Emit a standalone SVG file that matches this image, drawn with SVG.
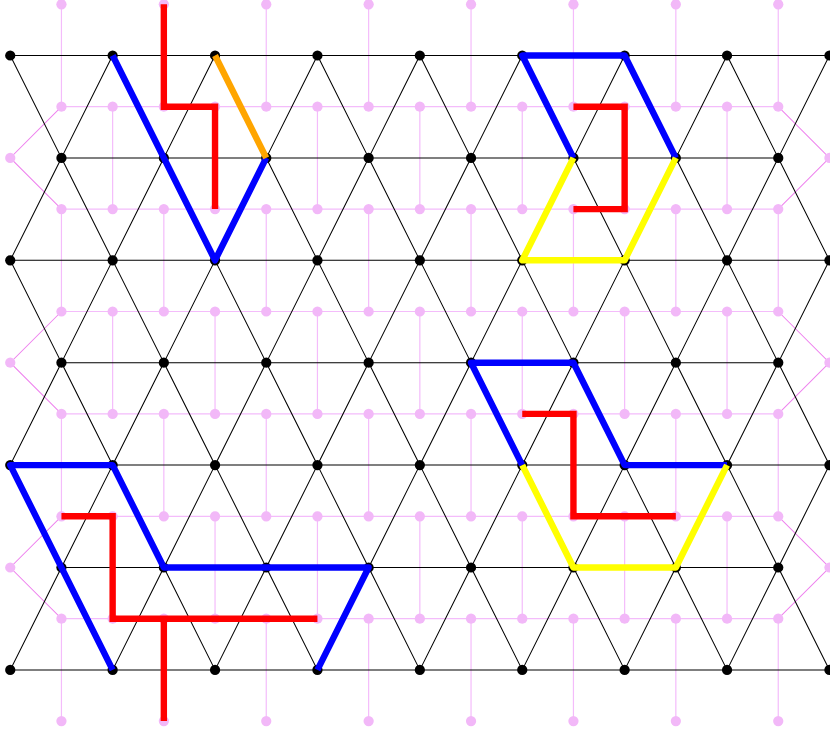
<svg xmlns="http://www.w3.org/2000/svg" width="830" height="733" viewBox="0 0 830 733">
<style>
.edge{fill:none;stroke:#000;stroke-width:1.02}
.pedge{fill:none;stroke:#f4bcfb;stroke-width:1.2}
.pside{fill:none;stroke:#ee82ee;stroke-width:1.02}
.b{fill:#000}
.p{fill:#f2b8f8}
.t{fill:none;stroke-width:6.4;stroke-linejoin:miter;stroke-linecap:butt}
.blue{stroke:#00f;stroke-linejoin:round}
.red{stroke:#f00}
.yellow{stroke:#ff0;stroke-linejoin:round}
.orange{stroke:#ffa500}
</style>
<rect width="830" height="733" fill="#fff"/>
<g id="connectors">
<g id="dual-edges">
<path class="pedge" d="M61.44 106.7H778.24M61.44 209.1H778.24M61.44 311.5H778.24M61.44 413.9H778.24M61.44 516.3H778.24M61.44 618.7H778.24"/>
<path class="pedge" d="M61.44 4.3V106.7M61.44 209.1V311.5M61.44 413.9V516.3M61.44 618.7V721.1M163.84 4.3V106.7M163.84 209.1V311.5M163.84 413.9V516.3M163.84 618.7V721.1M266.24 4.3V106.7M266.24 209.1V311.5M266.24 413.9V516.3M266.24 618.7V721.1M368.64 4.3V106.7M368.64 209.1V311.5M368.64 413.9V516.3M368.64 618.7V721.1M471.04 4.3V106.7M471.04 209.1V311.5M471.04 413.9V516.3M471.04 618.7V721.1M573.44 4.3V106.7M573.44 209.1V311.5M573.44 413.9V516.3M573.44 618.7V721.1M675.84 4.3V106.7M675.84 209.1V311.5M675.84 413.9V516.3M675.84 618.7V721.1M778.24 4.3V106.7M778.24 209.1V311.5M778.24 413.9V516.3M778.24 618.7V721.1"/>
<path class="pedge" d="M112.64 106.7V209.1M112.64 311.5V413.9M112.64 516.3V618.7M215.04 106.7V209.1M215.04 311.5V413.9M215.04 516.3V618.7M317.44 106.7V209.1M317.44 311.5V413.9M317.44 516.3V618.7M419.84 106.7V209.1M419.84 311.5V413.9M419.84 516.3V618.7M522.24 106.7V209.1M522.24 311.5V413.9M522.24 516.3V618.7M624.64 106.7V209.1M624.64 311.5V413.9M624.64 516.3V618.7M727.04 106.7V209.1M727.04 311.5V413.9M727.04 516.3V618.7"/>
<path class="pside" d="M61.44 106.7L10.24 157.9L61.44 209.1M61.44 311.5L10.24 362.7L61.44 413.9M61.44 516.3L10.24 567.5L61.44 618.7M778.24 106.7L829.44 157.9L778.24 209.1M778.24 311.5L829.44 362.7L778.24 413.9M778.24 516.3L829.44 567.5L778.24 618.7"/>
</g>
<g id="lattice-edges">
<path class="edge" d="M10.24 55.5H829.44M61.44 157.9H778.24M10.24 260.3H829.44M61.44 362.7H778.24M10.24 465.1H829.44M61.44 567.5H778.24M10.24 669.9H829.44"/>
<path class="edge" d="M10.24 55.5L61.44 157.9L112.64 55.5L163.84 157.9L215.04 55.5L266.24 157.9L317.44 55.5L368.64 157.9L419.84 55.5L471.04 157.9L522.24 55.5L573.44 157.9L624.64 55.5L675.84 157.9L727.04 55.5L778.24 157.9L829.44 55.5"/>
<path class="edge" d="M10.24 260.3L61.44 157.9L112.64 260.3L163.84 157.9L215.04 260.3L266.24 157.9L317.44 260.3L368.64 157.9L419.84 260.3L471.04 157.9L522.24 260.3L573.44 157.9L624.64 260.3L675.84 157.9L727.04 260.3L778.24 157.9L829.44 260.3"/>
<path class="edge" d="M10.24 260.3L61.44 362.7L112.64 260.3L163.84 362.7L215.04 260.3L266.24 362.7L317.44 260.3L368.64 362.7L419.84 260.3L471.04 362.7L522.24 260.3L573.44 362.7L624.64 260.3L675.84 362.7L727.04 260.3L778.24 362.7L829.44 260.3"/>
<path class="edge" d="M10.24 465.1L61.44 362.7L112.64 465.1L163.84 362.7L215.04 465.1L266.24 362.7L317.44 465.1L368.64 362.7L419.84 465.1L471.04 362.7L522.24 465.1L573.44 362.7L624.64 465.1L675.84 362.7L727.04 465.1L778.24 362.7L829.44 465.1"/>
<path class="edge" d="M10.24 465.1L61.44 567.5L112.64 465.1L163.84 567.5L215.04 465.1L266.24 567.5L317.44 465.1L368.64 567.5L419.84 465.1L471.04 567.5L522.24 465.1L573.44 567.5L624.64 465.1L675.84 567.5L727.04 465.1L778.24 567.5L829.44 465.1"/>
<path class="edge" d="M10.24 669.9L61.44 567.5L112.64 669.9L163.84 567.5L215.04 669.9L266.24 567.5L317.44 669.9L368.64 567.5L419.84 669.9L471.04 567.5L522.24 669.9L573.44 567.5L624.64 669.9L675.84 567.5L727.04 669.9L778.24 567.5L829.44 669.9"/>
</g>
</g>
<g id="dual-nodes">
<g id="p-s1"><circle class="p" cx="10.24" cy="157.9" r="5.12"/></g><g id="p-s2"><circle class="p" cx="10.24" cy="362.7" r="5.12"/></g><g id="p-s3"><circle class="p" cx="10.24" cy="567.5" r="5.12"/></g><g id="p-s4"><circle class="p" cx="829.44" cy="157.9" r="5.12"/></g><g id="p-s5"><circle class="p" cx="829.44" cy="362.7" r="5.12"/></g><g id="p-s6"><circle class="p" cx="829.44" cy="567.5" r="5.12"/></g>
<g id="p-0-1"><circle class="p" cx="61.44" cy="4.3" r="5.12"/></g><g id="p-0-2"><circle class="p" cx="163.84" cy="4.3" r="5.12"/></g><g id="p-0-3"><circle class="p" cx="266.24" cy="4.3" r="5.12"/></g><g id="p-0-4"><circle class="p" cx="368.64" cy="4.3" r="5.12"/></g><g id="p-0-5"><circle class="p" cx="471.04" cy="4.3" r="5.12"/></g><g id="p-0-6"><circle class="p" cx="573.44" cy="4.3" r="5.12"/></g><g id="p-0-7"><circle class="p" cx="675.84" cy="4.3" r="5.12"/></g><g id="p-0-8"><circle class="p" cx="778.24" cy="4.3" r="5.12"/></g>
<g id="p-7-1"><circle class="p" cx="61.44" cy="721.1" r="5.12"/></g><g id="p-7-2"><circle class="p" cx="163.84" cy="721.1" r="5.12"/></g><g id="p-7-3"><circle class="p" cx="266.24" cy="721.1" r="5.12"/></g><g id="p-7-4"><circle class="p" cx="368.64" cy="721.1" r="5.12"/></g><g id="p-7-5"><circle class="p" cx="471.04" cy="721.1" r="5.12"/></g><g id="p-7-6"><circle class="p" cx="573.44" cy="721.1" r="5.12"/></g><g id="p-7-7"><circle class="p" cx="675.84" cy="721.1" r="5.12"/></g><g id="p-7-8"><circle class="p" cx="778.24" cy="721.1" r="5.12"/></g>
<g id="p-1-1"><circle class="p" cx="61.44" cy="106.7" r="5.12"/></g><g id="p-1-2"><circle class="p" cx="112.64" cy="106.7" r="5.12"/></g><g id="p-1-3"><circle class="p" cx="163.84" cy="106.7" r="5.12"/></g><g id="p-1-4"><circle class="p" cx="215.04" cy="106.7" r="5.12"/></g><g id="p-1-5"><circle class="p" cx="266.24" cy="106.7" r="5.12"/></g><g id="p-1-6"><circle class="p" cx="317.44" cy="106.7" r="5.12"/></g><g id="p-1-7"><circle class="p" cx="368.64" cy="106.7" r="5.12"/></g><g id="p-1-8"><circle class="p" cx="419.84" cy="106.7" r="5.12"/></g><g id="p-1-9"><circle class="p" cx="471.04" cy="106.7" r="5.12"/></g><g id="p-1-10"><circle class="p" cx="522.24" cy="106.7" r="5.12"/></g><g id="p-1-11"><circle class="p" cx="573.44" cy="106.7" r="5.12"/></g><g id="p-1-12"><circle class="p" cx="624.64" cy="106.7" r="5.12"/></g><g id="p-1-13"><circle class="p" cx="675.84" cy="106.7" r="5.12"/></g><g id="p-1-14"><circle class="p" cx="727.04" cy="106.7" r="5.12"/></g><g id="p-1-15"><circle class="p" cx="778.24" cy="106.7" r="5.12"/></g>
<g id="p-2-1"><circle class="p" cx="61.44" cy="209.1" r="5.12"/></g><g id="p-2-2"><circle class="p" cx="112.64" cy="209.1" r="5.12"/></g><g id="p-2-3"><circle class="p" cx="163.84" cy="209.1" r="5.12"/></g><g id="p-2-4"><circle class="p" cx="215.04" cy="209.1" r="5.12"/></g><g id="p-2-5"><circle class="p" cx="266.24" cy="209.1" r="5.12"/></g><g id="p-2-6"><circle class="p" cx="317.44" cy="209.1" r="5.12"/></g><g id="p-2-7"><circle class="p" cx="368.64" cy="209.1" r="5.12"/></g><g id="p-2-8"><circle class="p" cx="419.84" cy="209.1" r="5.12"/></g><g id="p-2-9"><circle class="p" cx="471.04" cy="209.1" r="5.12"/></g><g id="p-2-10"><circle class="p" cx="522.24" cy="209.1" r="5.12"/></g><g id="p-2-11"><circle class="p" cx="573.44" cy="209.1" r="5.12"/></g><g id="p-2-12"><circle class="p" cx="624.64" cy="209.1" r="5.12"/></g><g id="p-2-13"><circle class="p" cx="675.84" cy="209.1" r="5.12"/></g><g id="p-2-14"><circle class="p" cx="727.04" cy="209.1" r="5.12"/></g><g id="p-2-15"><circle class="p" cx="778.24" cy="209.1" r="5.12"/></g>
<g id="p-3-1"><circle class="p" cx="61.44" cy="311.5" r="5.12"/></g><g id="p-3-2"><circle class="p" cx="112.64" cy="311.5" r="5.12"/></g><g id="p-3-3"><circle class="p" cx="163.84" cy="311.5" r="5.12"/></g><g id="p-3-4"><circle class="p" cx="215.04" cy="311.5" r="5.12"/></g><g id="p-3-5"><circle class="p" cx="266.24" cy="311.5" r="5.12"/></g><g id="p-3-6"><circle class="p" cx="317.44" cy="311.5" r="5.12"/></g><g id="p-3-7"><circle class="p" cx="368.64" cy="311.5" r="5.12"/></g><g id="p-3-8"><circle class="p" cx="419.84" cy="311.5" r="5.12"/></g><g id="p-3-9"><circle class="p" cx="471.04" cy="311.5" r="5.12"/></g><g id="p-3-10"><circle class="p" cx="522.24" cy="311.5" r="5.12"/></g><g id="p-3-11"><circle class="p" cx="573.44" cy="311.5" r="5.12"/></g><g id="p-3-12"><circle class="p" cx="624.64" cy="311.5" r="5.12"/></g><g id="p-3-13"><circle class="p" cx="675.84" cy="311.5" r="5.12"/></g><g id="p-3-14"><circle class="p" cx="727.04" cy="311.5" r="5.12"/></g><g id="p-3-15"><circle class="p" cx="778.24" cy="311.5" r="5.12"/></g>
<g id="p-4-1"><circle class="p" cx="61.44" cy="413.9" r="5.12"/></g><g id="p-4-2"><circle class="p" cx="112.64" cy="413.9" r="5.12"/></g><g id="p-4-3"><circle class="p" cx="163.84" cy="413.9" r="5.12"/></g><g id="p-4-4"><circle class="p" cx="215.04" cy="413.9" r="5.12"/></g><g id="p-4-5"><circle class="p" cx="266.24" cy="413.9" r="5.12"/></g><g id="p-4-6"><circle class="p" cx="317.44" cy="413.9" r="5.12"/></g><g id="p-4-7"><circle class="p" cx="368.64" cy="413.9" r="5.12"/></g><g id="p-4-8"><circle class="p" cx="419.84" cy="413.9" r="5.12"/></g><g id="p-4-9"><circle class="p" cx="471.04" cy="413.9" r="5.12"/></g><g id="p-4-10"><circle class="p" cx="522.24" cy="413.9" r="5.12"/></g><g id="p-4-11"><circle class="p" cx="573.44" cy="413.9" r="5.12"/></g><g id="p-4-12"><circle class="p" cx="624.64" cy="413.9" r="5.12"/></g><g id="p-4-13"><circle class="p" cx="675.84" cy="413.9" r="5.12"/></g><g id="p-4-14"><circle class="p" cx="727.04" cy="413.9" r="5.12"/></g><g id="p-4-15"><circle class="p" cx="778.24" cy="413.9" r="5.12"/></g>
<g id="p-5-1"><circle class="p" cx="61.44" cy="516.3" r="5.12"/></g><g id="p-5-2"><circle class="p" cx="112.64" cy="516.3" r="5.12"/></g><g id="p-5-3"><circle class="p" cx="163.84" cy="516.3" r="5.12"/></g><g id="p-5-4"><circle class="p" cx="215.04" cy="516.3" r="5.12"/></g><g id="p-5-5"><circle class="p" cx="266.24" cy="516.3" r="5.12"/></g><g id="p-5-6"><circle class="p" cx="317.44" cy="516.3" r="5.12"/></g><g id="p-5-7"><circle class="p" cx="368.64" cy="516.3" r="5.12"/></g><g id="p-5-8"><circle class="p" cx="419.84" cy="516.3" r="5.12"/></g><g id="p-5-9"><circle class="p" cx="471.04" cy="516.3" r="5.12"/></g><g id="p-5-10"><circle class="p" cx="522.24" cy="516.3" r="5.12"/></g><g id="p-5-11"><circle class="p" cx="573.44" cy="516.3" r="5.12"/></g><g id="p-5-12"><circle class="p" cx="624.64" cy="516.3" r="5.12"/></g><g id="p-5-13"><circle class="p" cx="675.84" cy="516.3" r="5.12"/></g><g id="p-5-14"><circle class="p" cx="727.04" cy="516.3" r="5.12"/></g><g id="p-5-15"><circle class="p" cx="778.24" cy="516.3" r="5.12"/></g>
<g id="p-6-1"><circle class="p" cx="61.44" cy="618.7" r="5.12"/></g><g id="p-6-2"><circle class="p" cx="112.64" cy="618.7" r="5.12"/></g><g id="p-6-3"><circle class="p" cx="163.84" cy="618.7" r="5.12"/></g><g id="p-6-4"><circle class="p" cx="215.04" cy="618.7" r="5.12"/></g><g id="p-6-5"><circle class="p" cx="266.24" cy="618.7" r="5.12"/></g><g id="p-6-6"><circle class="p" cx="317.44" cy="618.7" r="5.12"/></g><g id="p-6-7"><circle class="p" cx="368.64" cy="618.7" r="5.12"/></g><g id="p-6-8"><circle class="p" cx="419.84" cy="618.7" r="5.12"/></g><g id="p-6-9"><circle class="p" cx="471.04" cy="618.7" r="5.12"/></g><g id="p-6-10"><circle class="p" cx="522.24" cy="618.7" r="5.12"/></g><g id="p-6-11"><circle class="p" cx="573.44" cy="618.7" r="5.12"/></g><g id="p-6-12"><circle class="p" cx="624.64" cy="618.7" r="5.12"/></g><g id="p-6-13"><circle class="p" cx="675.84" cy="618.7" r="5.12"/></g><g id="p-6-14"><circle class="p" cx="727.04" cy="618.7" r="5.12"/></g><g id="p-6-15"><circle class="p" cx="778.24" cy="618.7" r="5.12"/></g>
</g>
<g id="lattice-nodes">
<g id="b-0-1"><circle class="b" cx="10.24" cy="55.5" r="5.12"/></g><g id="b-0-2"><circle class="b" cx="112.64" cy="55.5" r="5.12"/></g><g id="b-0-3"><circle class="b" cx="215.04" cy="55.5" r="5.12"/></g><g id="b-0-4"><circle class="b" cx="317.44" cy="55.5" r="5.12"/></g><g id="b-0-5"><circle class="b" cx="419.84" cy="55.5" r="5.12"/></g><g id="b-0-6"><circle class="b" cx="522.24" cy="55.5" r="5.12"/></g><g id="b-0-7"><circle class="b" cx="624.64" cy="55.5" r="5.12"/></g><g id="b-0-8"><circle class="b" cx="727.04" cy="55.5" r="5.12"/></g><g id="b-0-9"><circle class="b" cx="829.44" cy="55.5" r="5.12"/></g>
<g id="b-1-1"><circle class="b" cx="61.44" cy="157.9" r="5.12"/></g><g id="b-1-2"><circle class="b" cx="163.84" cy="157.9" r="5.12"/></g><g id="b-1-3"><circle class="b" cx="266.24" cy="157.9" r="5.12"/></g><g id="b-1-4"><circle class="b" cx="368.64" cy="157.9" r="5.12"/></g><g id="b-1-5"><circle class="b" cx="471.04" cy="157.9" r="5.12"/></g><g id="b-1-6"><circle class="b" cx="573.44" cy="157.9" r="5.12"/></g><g id="b-1-7"><circle class="b" cx="675.84" cy="157.9" r="5.12"/></g><g id="b-1-8"><circle class="b" cx="778.24" cy="157.9" r="5.12"/></g>
<g id="b-2-1"><circle class="b" cx="10.24" cy="260.3" r="5.12"/></g><g id="b-2-2"><circle class="b" cx="112.64" cy="260.3" r="5.12"/></g><g id="b-2-3"><circle class="b" cx="215.04" cy="260.3" r="5.12"/></g><g id="b-2-4"><circle class="b" cx="317.44" cy="260.3" r="5.12"/></g><g id="b-2-5"><circle class="b" cx="419.84" cy="260.3" r="5.12"/></g><g id="b-2-6"><circle class="b" cx="522.24" cy="260.3" r="5.12"/></g><g id="b-2-7"><circle class="b" cx="624.64" cy="260.3" r="5.12"/></g><g id="b-2-8"><circle class="b" cx="727.04" cy="260.3" r="5.12"/></g><g id="b-2-9"><circle class="b" cx="829.44" cy="260.3" r="5.12"/></g>
<g id="b-3-1"><circle class="b" cx="61.44" cy="362.7" r="5.12"/></g><g id="b-3-2"><circle class="b" cx="163.84" cy="362.7" r="5.12"/></g><g id="b-3-3"><circle class="b" cx="266.24" cy="362.7" r="5.12"/></g><g id="b-3-4"><circle class="b" cx="368.64" cy="362.7" r="5.12"/></g><g id="b-3-5"><circle class="b" cx="471.04" cy="362.7" r="5.12"/></g><g id="b-3-6"><circle class="b" cx="573.44" cy="362.7" r="5.12"/></g><g id="b-3-7"><circle class="b" cx="675.84" cy="362.7" r="5.12"/></g><g id="b-3-8"><circle class="b" cx="778.24" cy="362.7" r="5.12"/></g>
<g id="b-4-1"><circle class="b" cx="10.24" cy="465.1" r="5.12"/></g><g id="b-4-2"><circle class="b" cx="112.64" cy="465.1" r="5.12"/></g><g id="b-4-3"><circle class="b" cx="215.04" cy="465.1" r="5.12"/></g><g id="b-4-4"><circle class="b" cx="317.44" cy="465.1" r="5.12"/></g><g id="b-4-5"><circle class="b" cx="419.84" cy="465.1" r="5.12"/></g><g id="b-4-6"><circle class="b" cx="522.24" cy="465.1" r="5.12"/></g><g id="b-4-7"><circle class="b" cx="624.64" cy="465.1" r="5.12"/></g><g id="b-4-8"><circle class="b" cx="727.04" cy="465.1" r="5.12"/></g><g id="b-4-9"><circle class="b" cx="829.44" cy="465.1" r="5.12"/></g>
<g id="b-5-1"><circle class="b" cx="61.44" cy="567.5" r="5.12"/></g><g id="b-5-2"><circle class="b" cx="163.84" cy="567.5" r="5.12"/></g><g id="b-5-3"><circle class="b" cx="266.24" cy="567.5" r="5.12"/></g><g id="b-5-4"><circle class="b" cx="368.64" cy="567.5" r="5.12"/></g><g id="b-5-5"><circle class="b" cx="471.04" cy="567.5" r="5.12"/></g><g id="b-5-6"><circle class="b" cx="573.44" cy="567.5" r="5.12"/></g><g id="b-5-7"><circle class="b" cx="675.84" cy="567.5" r="5.12"/></g><g id="b-5-8"><circle class="b" cx="778.24" cy="567.5" r="5.12"/></g>
<g id="b-6-1"><circle class="b" cx="10.24" cy="669.9" r="5.12"/></g><g id="b-6-2"><circle class="b" cx="112.64" cy="669.9" r="5.12"/></g><g id="b-6-3"><circle class="b" cx="215.04" cy="669.9" r="5.12"/></g><g id="b-6-4"><circle class="b" cx="317.44" cy="669.9" r="5.12"/></g><g id="b-6-5"><circle class="b" cx="419.84" cy="669.9" r="5.12"/></g><g id="b-6-6"><circle class="b" cx="522.24" cy="669.9" r="5.12"/></g><g id="b-6-7"><circle class="b" cx="624.64" cy="669.9" r="5.12"/></g><g id="b-6-8"><circle class="b" cx="727.04" cy="669.9" r="5.12"/></g><g id="b-6-9"><circle class="b" cx="829.44" cy="669.9" r="5.12"/></g>
</g>
<g id="highlight-connectors">
<path class="t red" d="M163.84 4.3V106.7H215.04V209.1"/>
<path class="t blue" d="M112.64 55.5L215.04 260.3L266.24 157.9"/>
<path class="t orange" d="M215.04 55.5L266.24 157.9"/>
<path class="t red" d="M573.44 106.7H624.64V209.1H573.44"/>
<path class="t blue" d="M573.44 157.9L522.24 55.5H624.64L675.84 157.9"/>
<path class="t yellow" d="M573.44 157.9L522.24 260.3H624.64L675.84 157.9"/>
<path class="t red" d="M522.24 413.9H573.44V516.3H675.84"/>
<path class="t blue" d="M522.24 465.1L471.04 362.7H573.44L624.64 465.1H727.04"/>
<path class="t yellow" d="M522.24 465.1L573.44 567.5H675.84L727.04 465.1"/>
<path class="t red" d="M61.44 516.3H112.64V618.7H317.44M163.84 618.7V721.1"/>
<path class="t blue" d="M112.64 669.9L10.24 465.1H112.64L163.84 567.5H368.64L317.44 669.9"/>
</g>
</svg>
